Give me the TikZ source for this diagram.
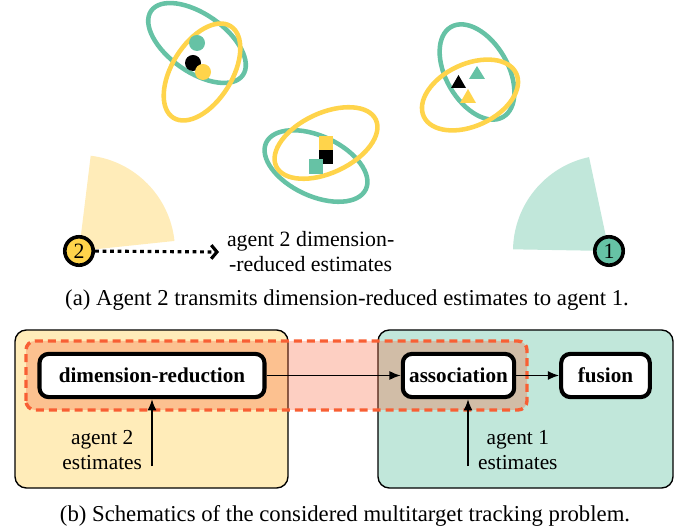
\documentclass[tikz,border=0pt]{standalone}
\usepackage{fontspec}
\setmainfont{Liberation Serif}
\usepackage{xcolor}
\usepackage{tikz}
\usetikzlibrary{arrows.meta}

\definecolor{agone}{RGB}{102,194,165}
\definecolor{agtwo}{RGB}{255,212,75}
\definecolor{agonelight}{RGB}{193,231,218}
\definecolor{agtwolight}{RGB}{255,236,185}
\definecolor{shared}{RGB}{248,95,52}

\tikzset{
  agent/.style={circle, draw, line width=1.6pt, minimum size=12.5pt, inner sep=0pt, font=\fontsize{9.6}{11}\selectfont},
  track/.style={line width=2pt},
  stepbox/.style={draw, line width=1.8pt, rounded corners=4pt, fill=white, minimum height=19pt, inner sep=2pt, font=\fontsize{9.3}{11}\selectfont\bfseries},
  flow/.style={line width=0.75pt, -{Latex[length=5pt,width=4pt]}},
  lbl/.style={align=center, font=\fontsize{9.4}{11}\selectfont},
  panel/.style={draw, line width=0.6pt, rounded corners=5pt},
  captext/.style={font=\fontsize{10}{12}\selectfont}
}

\begin{document}
\begin{tikzpicture}[x=0.44pt, y=0.44pt]
\useasboundingbox (0,0) rectangle (680,529);

% fields of view
\coordinate (ag2pos) at (79,278);
\coordinate (ag1pos) at (609,278);
\fill[agtwolight] (ag2pos) -- ++(6:96) arc[start angle=6, end angle=83, radius=96] -- cycle;
\fill[agonelight] (ag1pos) -- ++(102:96) arc[start angle=102, end angle=179, radius=96] -- cycle;

% circle target
\draw[track, agone, rotate around={-35:(197,486)}] (197,486) ellipse [x radius=56, y radius=29];
\draw[track, agtwo, rotate around={58:(202,457)}] (202,457) ellipse [x radius=54, y radius=30];
\fill[agone] (197,486) circle (8);
\fill[black] (193,466) circle (8);
\fill[agtwo] (203,457) circle (8);

% square target
\draw[track, agone, rotate around={-25:(316,363)}] (316,363) ellipse [x radius=55, y radius=30];
\draw[track, agtwo, rotate around={25:(326,386)}] (326,386) ellipse [x radius=55, y radius=30];
\fill[agtwo] (319,379) rectangle (333,393);
\fill[black] (319,365) rectangle (333,379);
\fill[agone] (309,355) rectangle (323,370);

% triangle target
\draw[track, agone, rotate around={-60:(477,457)}] (477,457) ellipse [x radius=52, y radius=31];
\draw[track, agtwo, rotate around={25:(470,434)}] (470,434) ellipse [x radius=51, y radius=31];
\fill[agone] (469,450) -- (485,450) -- (477,463) -- cycle;
\fill[black] (451,441) -- (466,441) -- (458.5,454) -- cycle;
\fill[agtwo] (460,426) -- (476,426) -- (468,440) -- cycle;

% agents
\node[agent, fill=agtwo] (ag2) at (ag2pos) {2};
\node[agent, fill=agone] (ag1) at (ag1pos) {1};
\node[lbl, anchor=west, font=\fontsize{9.6}{11}\selectfont] (msg) at (219,277) {agent 2 dimension-\\-reduced estimates};
\draw[line width=1.4pt, dash pattern=on 1.7pt off 1.6pt, -{Straight Barb[length=2.5pt,width=6pt]}] (ag2) -- (msg.west);

\node[captext] (capa) at (347,229) {(a) Agent 2 transmits dimension-reduced estimates to agent 1.};

% schematics
\draw[panel, fill=agtwolight] (15,41) rectangle (288,199);
\draw[panel, fill=agonelight] (378,41) rectangle (673,199);
\draw[shared, line width=1.5pt, dash pattern=on 3.5pt off 2.2pt, rounded corners=4pt, fill=shared, fill opacity=0.3] (26,119) rectangle (527,188);

\node[stepbox, minimum width=99pt] (dimred) at (152,153.5) {dimension-reduction};
\node[stepbox, minimum width=49pt] (assoc) at (458.5,153.5) {association};
\node[stepbox, minimum width=39pt] (fusion) at (605.5,153.5) {fusion};

\draw[flow] (dimred) -- (assoc);
\draw[flow] (assoc) -- (fusion);

\coordinate (a2in) at (152,63);
\coordinate (a1in) at (468,63);
\draw[flow] (a2in) -- (dimred);
\draw[flow] (a1in) -- (a1in |- assoc.south);
\node[lbl, anchor=east] (a2lbl) at (150,79) {agent 2\\estimates};
\node[lbl, anchor=west] (a1lbl) at (470,79) {agent 1\\estimates};

\node[captext] (capb) at (345,13) {(b) Schematics of the considered multitarget tracking problem.};
\end{tikzpicture}
\end{document}
